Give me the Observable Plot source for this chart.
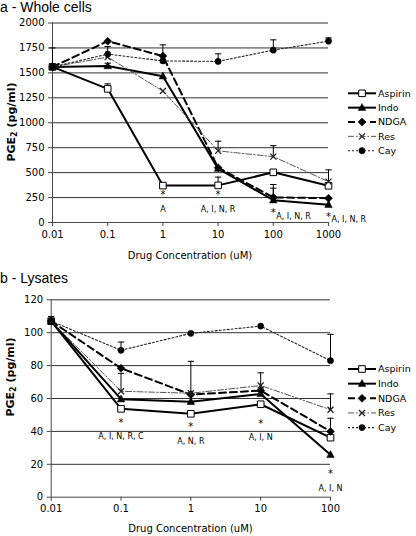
<!DOCTYPE html>
<html><head><meta charset="utf-8">
<script src="https://cdn.jsdelivr.net/npm/d3@7"></script>
<script src="https://cdn.jsdelivr.net/npm/@observablehq/plot@0.6"></script>
<style>
body{margin:0;background:#fff;}
#wrap{position:relative;width:416px;height:536px;overflow:hidden;font-family:"DejaVu Sans",Verdana,sans-serif;}
#wrap svg{position:absolute;left:0;}
</style></head><body><div id="wrap"></div>
<script>
// ---------- DATA ----------
const seriesNames = ["Aspirin", "Indo", "NDGA", "Res", "Cay"];

// Panel a - Whole cells
const concA = [0.01, 0.1, 1, 10, 100, 1000];
const concLabelsA = ["0.01", "0.1", "1", "10", "100", "1000"];
const yTicksA = [0, 250, 500, 750, 1000, 1250, 1500, 1750, 2000];
const aAspirin = [1560, 1340, 370, 372, 503, 368];
const aIndo    = [1560, 1568, 1466, 540, 224, 178];
const aNDGA    = [1560, 1818, 1668, 550, 252, 244];
const aRes     = [1560, 1658, 1318, 718, 660, 410];
const aCay     = [1560, 1688, 1620, 1615, 1728, 1818];
// error bar tops (null = none visible)
const aErrAspirin = [null, 1390, 395, 455, null, null];
const aErrIndo    = [null, 1597, null, null, 344, null];
const aErrNDGA    = [null, null, 1781, null, 381, null];
const aErrRes     = [null, null, null, 815, 770, 528];
const aErrCay     = [1750, 1764, null, 1691, 1831, 1851];
// significance annotations
const annConcA = [1, 10, 100, 1000];
const annTextA = ["A", "A, I, N, R", "A, I, N, R", "A, I, N, R"];
const annStarYA = [281, 281, 100, 60];
const annTextYA = [127, 127, 63, 27];

// Panel b - Lysates
const concB = [0.01, 0.1, 1, 10, 100];
const concLabelsB = ["0.01", "0.1", "1", "10", "100"];
const yTicksB = [0, 20, 40, 60, 80, 100, 120];
const bAspirin = [107, 53.7, 50.7, 56.5, 36.2];
const bIndo    = [107, 59.6, 58.0, 62.8, 25.8];
const bNDGA    = [107, 78.4, 62.4, 64.8, 40.0];
const bRes     = [107, 64.4, 63.2, 67.9, 53.2];
const bCay     = [107, 89.3, 99.6, 104.0, 83.0];
const bErrAspirin = [109.8, null, null, null, null];
const bErrIndo    = [null, null, null, null, null];
const bErrNDGA    = [null, null, 82.6, null, 48.0];
const bErrRes     = [null, 75.3, null, 75.6, 62.8];
const bErrCay     = [null, 94.3, null, null, 99.0];
const annConcB = [0.1, 1, 10, 100];
const annTextB = ["A, I, N, R, C", "A, N, R", "A, I, N", "A, I, N"];
const annStarYB = [45.3, 42.8, 44.7, 14.4];
const annTextYB = [36.8, 34.0, 36.4, 5.5];

// ---------- STYLES ----------
const symSquare = {draw(c){const s=3.3;c.moveTo(-s,-s);c.lineTo(s,-s);c.lineTo(s,s);c.lineTo(-s,s);c.closePath();}};
const symTri = {draw(c){const s=4.2;c.moveTo(0,-s);c.lineTo(s*0.9,s*0.65);c.lineTo(-s*0.9,s*0.65);c.closePath();}};
const symDiamond = {draw(c){const s=4;c.moveTo(0,-s);c.lineTo(s,0);c.lineTo(0,s);c.lineTo(-s,0);c.closePath();}};
const symX = {draw(c){const s=3;c.moveTo(-s,-s);c.lineTo(s,s);c.moveTo(s,-s);c.lineTo(-s,s);}};
const symCircle = {draw(c){c.moveTo(3.1,0);c.arc(0,0,3.1,0,2*Math.PI);}};
const symCap = {draw(c){c.moveTo(-3.2,0);c.lineTo(3.2,0);}};

const styles = {
  Aspirin: {line:"#000", lw:2, dash:null, sym:symSquare, fill:"#fff", stroke:"#000", sw:1},
  Indo:    {line:"#000", lw:2, dash:null, sym:symTri, fill:"#000", stroke:"#000", sw:0.5},
  NDGA:    {line:"#000", lw:2, dash:"7,4", sym:symDiamond, fill:"#000", stroke:"#000", sw:0.5},
  Res:     {line:"#555", lw:1, dash:"6,2,1.5,2", sym:symX, fill:"none", stroke:"#222", sw:1.3},
  Cay:     {line:"#222", lw:1.1, dash:"2,2", sym:symCircle, fill:"#000", stroke:"#000", sw:0.5}
};

function rows(conc, vals, errs) {
  const out = [];
  seriesNames.forEach((s, k) => {
    conc.forEach((c, i) => out.push({series: s, conc: c, value: vals[k][i], err: errs[k][i]}));
  });
  return out;
}

const dataA = rows(concA, [aAspirin, aIndo, aNDGA, aRes, aCay], [aErrAspirin, aErrIndo, aErrNDGA, aErrRes, aErrCay]);
const dataB = rows(concB, [bAspirin, bIndo, bNDGA, bRes, bCay], [bErrAspirin, bErrIndo, bErrNDGA, bErrRes, bErrCay]);
const annA = annConcA.map((c, i) => ({conc: c, text: annTextA[i], starY: annStarYA[i], textY: annTextYA[i]}));
const annB = annConcB.map((c, i) => ({conc: c, text: annTextB[i], starY: annStarYB[i], textY: annTextYB[i]}));

function panel({data, conc, concLabels, yTicks, yDomain, ann, height, mt, mb, ml, mr, leftAnchored}) {
  const errs = data.filter(d => d.err != null);
  const marks = [
    Plot.gridY(yTicks.filter(t => t > 0), {stroke: "#333", strokeOpacity: 1, strokeWidth: 1}),
    Plot.axisY(yTicks, {tickSize: 4, tickPadding: 4, label: null, stroke: "#444", fontSize: 10,
      tickFormat: d => String(d)}),
    Plot.axisX(conc, {tickSize: 4, tickPadding: 4, label: null, stroke: "#444", fontSize: 10,
      tickFormat: d => concLabels[conc.indexOf(d)]}),
    Plot.ruleX([conc[0]], {stroke: "#444"}),
    Plot.ruleY([yDomain[0]], {stroke: "#444"}),
    Plot.ruleX(errs, {x: "conc", y1: "value", y2: "err", stroke: "#000", strokeWidth: 1}),
    Plot.dot(errs, {x: "conc", y: "err", symbol: symCap, r: 3, fill: "none", stroke: "#000", strokeWidth: 1})
  ];
  for (const s of seriesNames) {
    const st = styles[s];
    marks.push(Plot.line(data.filter(d => d.series === s), {x: "conc", y: "value", stroke: st.line,
      strokeWidth: st.lw, strokeDasharray: st.dash || undefined, strokeLinejoin: "round"}));
  }
  for (const s of seriesNames) {
    const st = styles[s];
    marks.push(Plot.dot(data.filter(d => d.series === s), {x: "conc", y: "value", symbol: st.sym, r: 3,
      fill: st.fill, stroke: st.stroke, strokeWidth: st.sw}));
  }
  const annMid = ann.filter(d => !(leftAnchored && d.conc >= 100));
  const annLeft = ann.filter(d => leftAnchored && d.conc >= 100);
  marks.push(Plot.text(ann, {x: "conc", y: "starY", text: () => "*", fontSize: 10, fill: "#000"}));
  marks.push(Plot.text(annMid, {x: "conc", y: "textY", text: "text", fontSize: 8, fill: "#000"}));
  if (annLeft.length) marks.push(Plot.text(annLeft, {x: "conc", y: "textY", text: "text", fontSize: 8, fill: "#000", textAnchor: "start", dx: 3}));
  return Plot.plot({
    width: 416, height, marginTop: mt, marginBottom: mb, marginLeft: ml, marginRight: mr,
    x: {type: "log", domain: [conc[0], conc[conc.length - 1]]},
    y: {domain: yDomain},
    style: {fontFamily: "'DejaVu Sans', Verdana, sans-serif", fontSize: "10px", overflow: "visible", background: "transparent", color: "#000"},
    marks
  });
}

const wrap = document.getElementById("wrap");
const pA = panel({data: dataA, conc: concA, concLabels: concLabelsA, yTicks: yTicksA, yDomain: [0, 2000], ann: annA,
  height: 262, mt: 22.5, mb: 40, ml: 52, mr: 88, leftAnchored: true});
pA.style.top = "0px";
wrap.appendChild(pA);
const pB = panel({data: dataB, conc: concB, concLabels: concLabelsB, yTicks: yTicksB, yDomain: [0, 120], ann: annB,
  height: 266, mt: 29.3, mb: 39.3, ml: 50.7, mr: 86, leftAnchored: false});
pB.style.top = "270px";
wrap.appendChild(pB);

// ---------- overlay: titles, axis labels, legends ----------
const svg = d3.select(wrap).append("svg").attr("width", 416).attr("height", 536).style("top", "0px")
  .style("font-family", "'DejaVu Sans', Verdana, sans-serif");
svg.append("text").attr("x", 0).attr("y", 12).attr("font-family", "'Liberation Sans', Arial, sans-serif")
  .attr("font-size", 14).text("a - Whole cells");
svg.append("text").attr("x", 0).attr("y", 283).attr("font-family", "'Liberation Sans', Arial, sans-serif")
  .attr("font-size", 14).text("b - Lysates");
svg.append("text").attr("x", 190).attr("y", 259).attr("text-anchor", "middle").attr("font-size", 10).text("Drug Concentration (uM)");
svg.append("text").attr("x", 190.5).attr("y", 532).attr("text-anchor", "middle").attr("font-size", 10).text("Drug Concentration (uM)");

function ylabel(cx, cy) {
  const t = svg.append("text").attr("transform", `translate(${cx},${cy}) rotate(-90)`).attr("text-anchor", "middle")
    .attr("font-weight", "bold").attr("font-size", 11);
  t.append("tspan").text("PGE");
  t.append("tspan").attr("font-size", 8).attr("dy", 2).text("2");
  t.append("tspan").attr("dy", -2).text(" (pg/ml)");
}
ylabel(14.5, 122);
ylabel(13.5, 377);

function legend(x0, y0, step) {
  seriesNames.forEach((s, i) => {
    const st = styles[s];
    const y = y0 + i * step;
    svg.append("line").attr("x1", x0).attr("x2", x0 + 28).attr("y1", y).attr("y2", y)
      .attr("stroke", st.line).attr("stroke-width", st.lw).attr("stroke-dasharray", st.dash);
    svg.append("path").attr("transform", `translate(${x0 + 14},${y})`).attr("d", d3.symbol().type(st.sym)())
      .attr("fill", st.fill).attr("stroke", st.stroke).attr("stroke-width", st.sw);
    svg.append("text").attr("x", x0 + 30).attr("y", y).attr("dy", "0.35em").attr("font-size", 9.5).text(s);
  });
}
legend(348, 93.3, 14.35);
legend(348, 369, 14.65);
</script>
</body></html>
